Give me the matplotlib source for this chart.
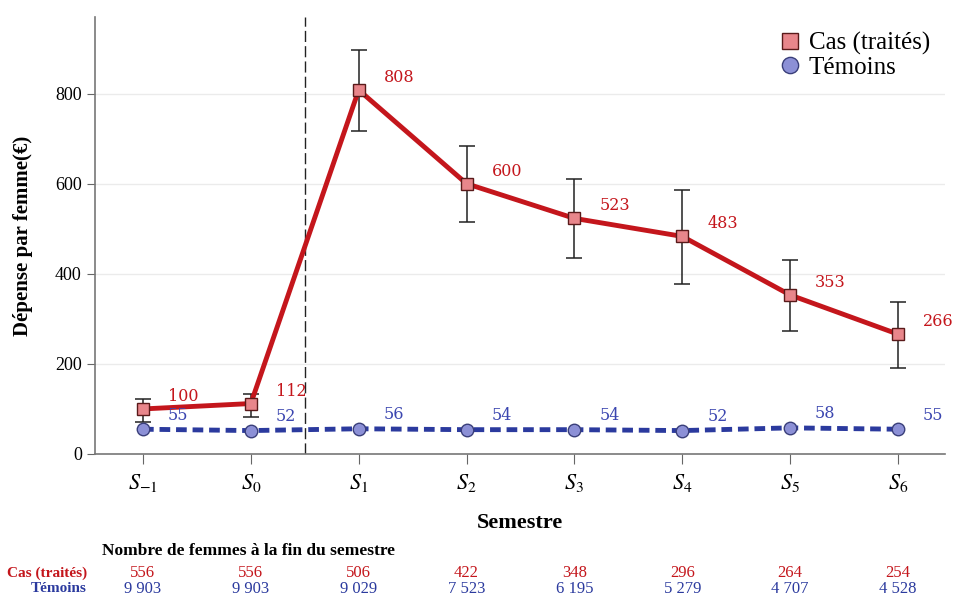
import numpy as np
import matplotlib.pyplot as plt
import matplotlib.transforms as mtransforms

plt.rcParams['font.family'] = ['Liberation Serif', 'DejaVu Serif']
plt.rcParams['mathtext.fontset'] = 'stix'

# data
semestres = ['$S_{-1}$', '$S_0$', '$S_1$', '$S_2$', '$S_3$', '$S_4$', '$S_5$', '$S_6$']
cas = [100, 112, 808, 600, 523, 483, 353, 266]
cas_haut = [123, 134, 897, 683, 610, 585, 430, 337]
cas_bas = [72, 83, 717, 514, 434, 377, 272, 192]
temoins = [55, 52, 56, 54, 54, 52, 58, 55]
n_cas = ['556', '556', '506', '422', '348', '296', '264', '254']
n_temoins = ['9 903', '9 903', '9 029', '7 523', '6 195', '5 279', '4 707', '4 528']

rouge = '#c4161c'
bleu = '#2b3a9e'

fig = plt.figure(figsize=(9.55, 5.96), dpi=100)
ax = fig.add_axes([95/955, 1 - 454/596, 850/955, 437/596])

x = np.arange(len(semestres))
cas = np.array(cas)
yerr = [cas - np.array(cas_bas), np.array(cas_haut) - cas]

ax.plot(x, temoins, color=bleu, lw=3.5, ls=(0, (2.2, 1.2)), zorder=3)
ax.plot(x, temoins, ls='none', marker='o', ms=9, mfc='#8c90d6', mec='#3a3f7a', mew=1, zorder=4,
        label='Témoins')
ax.errorbar(x, cas, yerr=yerr, fmt='none', ecolor='#222222', elinewidth=1.1, capsize=6, capthick=1.1, zorder=2)
ax.plot(x, cas, color=rouge, lw=3.5, zorder=3)
ax.plot(x, cas, ls='none', marker='s', ms=9, mfc='#e8868b', mec='#5a1a1a', mew=1, zorder=5,
        label='Cas (traités)')

for xi, v in zip(x, cas):
    ax.annotate(str(v), (xi, v), xytext=(18, 9), textcoords='offset points',
                color=rouge, fontsize=11.5, fontfamily='DejaVu Serif', va='center')
for xi, v in zip(x, temoins):
    ax.annotate(str(v), (xi, v), xytext=(18, 10), textcoords='offset points',
                color='#3b46b0', fontsize=11.5, fontfamily='DejaVu Serif', va='center')

ax.axvline(1.5, color='#222222', lw=1, ls=(0, (8, 3)), zorder=1)

ax.set_xlim(-0.445, 7.436)
ax.set_ylim(0, 970)
ax.set_xticks(x)
ax.set_xticklabels(semestres, fontsize=16)
ax.set_yticks([0, 200, 400, 600, 800])
ax.tick_params(axis='y', labelsize=13, length=6, color='#666666')
ax.tick_params(axis='x', length=7, color='#666666', pad=6)
ax.grid(axis='y', color='#ebebeb', lw=1)
ax.set_axisbelow(True)
for s in ['top', 'right']:
    ax.spines[s].set_visible(False)
for s in ['left', 'bottom']:
    ax.spines[s].set_color('#777777')
    ax.spines[s].set_linewidth(1.2)

ax.set_ylabel('Dépense par femme(€)', fontsize=15, fontweight='bold', labelpad=16)
ax.set_xlabel('Semestre', fontsize=16, fontweight='bold', labelpad=14)

handles, labels = ax.get_legend_handles_labels()
ax.legend(handles[::-1], labels[::-1], loc='upper right', bbox_to_anchor=(1.0, 1.0), frameon=False,
          fontsize=18, handletextpad=0.3, borderaxespad=0.2, labelspacing=0.05, handlelength=0.9,
          markerscale=1.3)

# table under the chart
tr = mtransforms.blended_transform_factory(ax.transData, fig.transFigure)
fig.text(102/955, 1 - 551/596, 'Nombre de femmes à la fin du semestre', fontsize=12.5,
         fontweight='bold', va='center', ha='left')
fig.text(87/955, 1 - 573/596, 'Cas (traités)', fontsize=11, fontweight='bold', color=rouge,
         va='center', ha='right')
fig.text(87/955, 1 - 589/596, 'Témoins', fontsize=11, fontweight='bold', color=bleu,
         va='center', ha='right')
for xi, a, b in zip(x, n_cas, n_temoins):
    ax.text(xi, 1 - 573/596, a, transform=tr, ha='center', va='center', fontsize=12, color=rouge)
    ax.text(xi, 1 - 589/596, b, transform=tr, ha='center', va='center', fontsize=12, color=bleu)

fig.savefig('out.png', dpi=100)
